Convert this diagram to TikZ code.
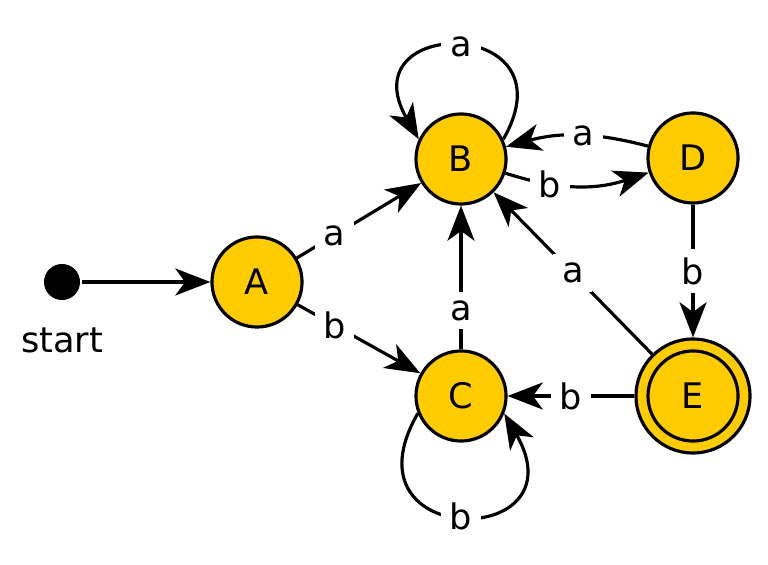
\documentclass[tikz,border=0pt]{standalone}
\usepackage{fontspec}
\setmainfont{DejaVu Sans}
\usepackage{tikz}
\usetikzlibrary{arrows.meta}
\definecolor{stategold}{RGB}{255,204,0}

\begin{document}
\begin{tikzpicture}[x=0.01cm,y=0.01cm,font=\fontsize{10}{12}\selectfont,
  line width=0.9pt,>={Stealth[length=10pt,width=7.7pt,inset=2.8pt]},
  state/.style={circle,draw,fill=stategold,minimum size=0.9cm,inner sep=0pt},
  lbl/.style={fill=white,inner sep=2.5pt}]
\useasboundingbox (0,0) rectangle (768,564);
\node[circle,fill=black,minimum size=0.36cm,inner sep=0pt] (init) at (62,282) {};
\node (startlbl) at (62,224) {start};
\node[state] (A) at (257,282) {A};
\node[state] (B) at (461,405) {B};
\node[state] (D) at (693,406) {D};
\node[state] (C) at (461,168) {C};
\node[state,minimum size=1.14cm] (E) at (693,168) {};
\node[state] (Ein) at (E) {E};

\draw[->] (init) -- (A);
\draw[->] (A) -- node[lbl,pos=0.3] {a} (B);
\draw[->] (A) -- node[lbl,pos=0.3] {b} (C);
\draw[->] (C) -- node[lbl,pos=0.27] {a} (B);
\draw[->] (B) to[bend right=18] node[lbl,pos=0.3] {b} (D);
\draw[->] (D) to[bend right=15] node[lbl,pos=0.45] {a} (B);
\draw[->] (D) -- node[lbl] {b} (E);
\draw[->] (E) -- node[lbl] {a} (B);
\draw[->] (E) -- node[lbl] {b} (C);
% self loops
\draw[->] (B.25) .. controls +(60:143) and +(120:143) .. node[lbl] {a} (B.155);
\draw[->] (C.202) .. controls +(240:158) and +(300:158) .. node[lbl] {b} (C.338);
\end{tikzpicture}
\end{document}
